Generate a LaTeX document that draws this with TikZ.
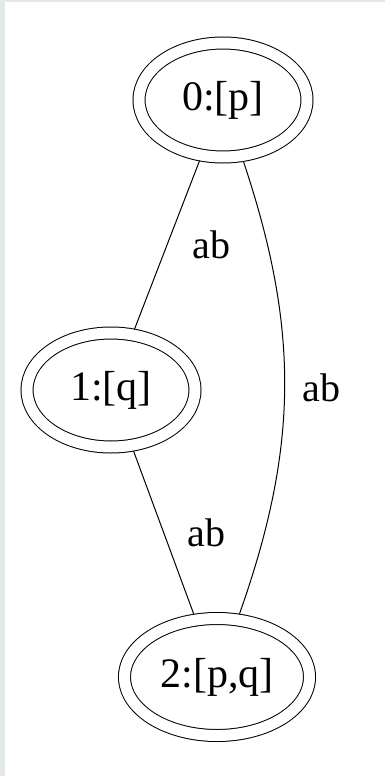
\documentclass[tikz,border=0pt]{standalone}
\usepackage{fontspec}
\setmainfont{Liberation Serif}
\usepackage{xcolor}
\usepackage{tikz}
\usetikzlibrary{shapes.geometric}
\definecolor{edgegray}{RGB}{226,234,232}

\begin{document}
\begin{tikzpicture}[x=1pt,y=-1pt,line width=1pt,st/.style={ellipse,draw,double,double distance=11pt,outer sep=6pt,inner sep=0pt,minimum width=168pt,minimum height=114pt,font=\fontsize{42}{44}\selectfont},lb/.style={font=\fontsize{40}{42}\selectfont}]
\useasboundingbox (0,0) rectangle (385,776);
\fill[edgegray] (0,0) rectangle (5,776);
\fill[edgegray] (0,0) rectangle (385,2);
\node[st] (q0) at (223,100) {0:[p]};
\node[st] (q1) at (111,390) {1:[q]};
\node[st,minimum width=185pt,minimum height=117pt] (q2) at (217,677) {2:[p,q]};
\draw (q0)--node[lb,right=22pt] {ab} (q1);
\draw (q1)--node[lb,right=20pt] {ab} (q2);
\draw (q0) to[bend left=19] node[lb,right=14pt] {ab} (q2);
\end{tikzpicture}
\end{document}
